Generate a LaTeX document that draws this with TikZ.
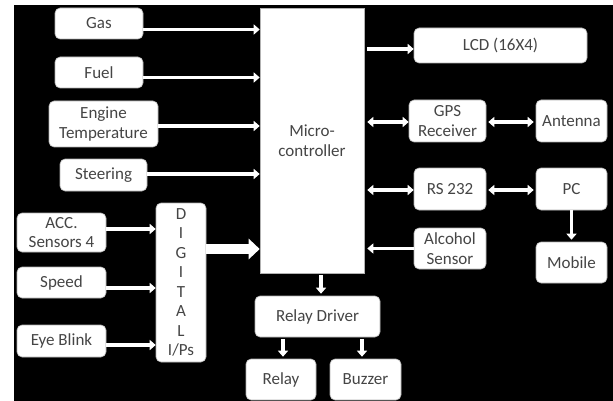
\documentclass[tikz,border=0pt]{standalone}
\usepackage{fontspec}
\setmainfont{Carlito}
\usetikzlibrary{arrows.meta}
\definecolor{txt}{HTML}{454545}
\begin{document}
\begin{tikzpicture}[x=1pt,y=-1pt,
 box/.style={draw=gray!60, line width=0.6pt, fill=white, rounded corners=5pt, inner sep=0pt, align=center, text=txt, font=\fontsize{17}{19.5}\selectfont},
 arr/.style={white, line width=3.5pt, -{Triangle[length=6pt,width=10pt]}},
 darr/.style={white, line width=3.5pt, {Triangle[length=6pt,width=10pt]}-{Triangle[length=6pt,width=10pt]}},
 bigarr/.style={white, line width=10pt, -{Triangle[length=11pt,width=20pt]}}]
\useasboundingbox (0,0) rectangle (613,401);
\fill[white] (0,0) rectangle (613,401);
\fill[black] (14,5) rectangle (613,401);

% left inputs
\node[box, minimum width=88pt, minimum height=31pt] (gas) at (99,23.5) {Gas};
\node[box, minimum width=88pt, minimum height=31pt] (fuel) at (99,72.5) {Fuel};
\node[box, minimum width=109pt, minimum height=46pt] (eng) at (103.5,124) {Engine\\Temperature};
\node[box, minimum width=87pt, minimum height=32pt] (steer) at (103.5,175) {Steering};

% micro-controller
\node[box, rounded corners=0pt, minimum width=104pt, minimum height=265pt] (mc) at (312,140.5) {Micro-\\controller};

% right side
\node[box, minimum width=173pt, minimum height=35pt] (lcd) at (500.5,45.5) {LCD (16X4)};
\node[box, minimum width=77pt, minimum height=42pt] (gps) at (447.5,121) {GPS\\Receiver};
\node[box, minimum width=71pt, minimum height=42pt] (ant) at (571.5,121) {Antenna};
\node[box, minimum width=72pt, minimum height=42pt] (rs) at (450,189) {RS 232};
\node[box, minimum width=71pt, minimum height=42pt] (pc) at (571.5,189) {PC};
\node[box, minimum width=72pt, minimum height=41pt] (alc) at (450,248.5) {Alcohol\\Sensor};
\node[box, minimum width=71pt, minimum height=41pt] (mob) at (571.5,262.5) {Mobile};

% bottom
\node[box, minimum width=125pt, minimum height=41pt] (rd) at (317.5,316.5) {Relay Driver};
\node[box, minimum width=70pt, minimum height=41pt] (relay) at (281,379.5) {Relay};
\node[box, minimum width=71pt, minimum height=41pt] (buz) at (365.5,379.5) {Buzzer};

% digital inputs
\node[box, minimum width=89pt, minimum height=39pt] (acc) at (61.5,232.5) {ACC.\\Sensors 4};
\node[box, minimum width=89pt, minimum height=31pt] (speed) at (61.5,282.5) {Speed};
\node[box, minimum width=89pt, minimum height=32pt] (eye) at (61.5,341) {Eye Blink};
\node[box, minimum width=50pt, minimum height=159pt] (dig) at (181,282.5) {D\\I\\G\\I\\T\\A\\L\\I/Ps};

% arrows into micro-controller
\draw[arr] ([yshift=-6pt]gas.east) -- ([yshift=-6pt]gas.east -| mc.west);
\draw[arr] ([yshift=-5pt]fuel.east) -- ([yshift=-5pt]fuel.east -| mc.west);
\draw[arr] ([yshift=-2pt]eng.east) -- ([yshift=-2pt]eng.east -| mc.west);
\draw[arr] ([yshift=1pt]steer.east) -- ([yshift=1pt]steer.east -| mc.west);
\draw[bigarr] ([yshift=33.5pt]dig.east) -- ([yshift=33.5pt]dig.east -| mc.west);

% arrows into digital inputs
\draw[arr] ([yshift=3.5pt]acc.east) -- ([yshift=3.5pt]acc.east -| dig.west);
\draw[arr] ([yshift=-5.5pt]speed.east) -- ([yshift=-5.5pt]speed.east -| dig.west);
\draw[arr] ([yshift=-4pt]eye.east) -- ([yshift=-4pt]eye.east -| dig.west);

% right side arrows
\draw[arr, shorten <=3pt] ([yshift=-3.5pt]lcd.west -| mc.east) -- ([yshift=-3.5pt]lcd.west);
\draw[darr, shorten <=3pt] ([yshift=-1pt]gps.west -| mc.east) -- ([yshift=-1pt]gps.west);
\draw[darr, shorten <=2pt, shorten >=2pt] ([yshift=-1pt]gps.east) -- ([yshift=-1pt]ant.west);
\draw[darr, shorten <=3pt] ([yshift=-1pt]rs.west -| mc.east) -- ([yshift=-1pt]rs.west);
\draw[darr, shorten <=2pt, shorten >=2pt] ([yshift=-1pt]rs.east) -- ([yshift=-1pt]pc.west);
\draw[arr, shorten >=3pt] (alc.west) -- (alc.west -| mc.east);
\draw[arr, shorten >=2pt] (pc.south) -- (mob.north);

% bottom arrows
\draw[arr, shorten <=2pt, shorten >=2pt] ([xshift=9pt]mc.south) -- ([xshift=9pt]mc.south |- rd.north);
\draw[arr, shorten <=2pt, shorten >=2pt] ([xshift=2pt]relay.north |- rd.south) -- ([xshift=2pt]relay.north);
\draw[arr, shorten <=2pt, shorten >=2pt] ([xshift=-3.5pt]buz.north |- rd.south) -- ([xshift=-3.5pt]buz.north);
\end{tikzpicture}
\end{document}
